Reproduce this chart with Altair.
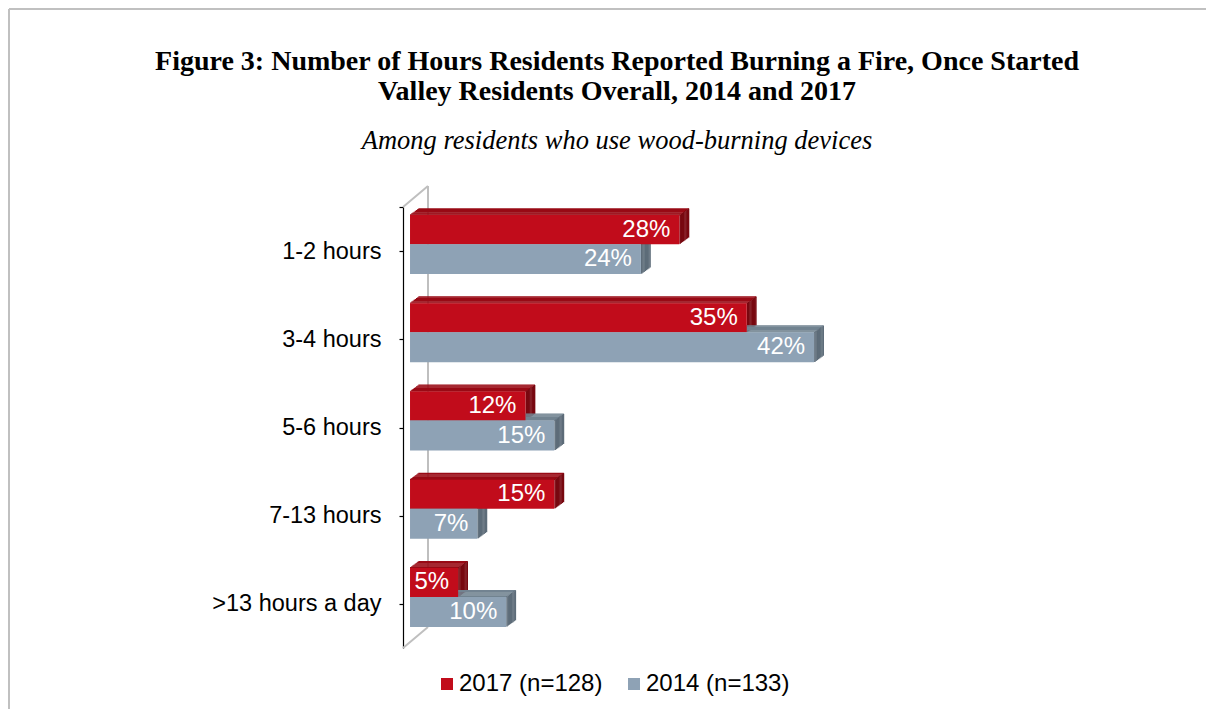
import json
import altair as alt
import pandas as pd

# ---- data ----
categories = ["1-2 hours", "3-4 hours", "5-6 hours", "7-13 hours", ">13 hours a day"]
values_2017 = [28, 35, 12, 15, 5]
values_2014 = [24, 42, 15, 7, 10]
series_names = ["2017 (n=128)", "2014 (n=133)"]

# ---- styles ----
FRONT = ["#C10C1B", "#8EA2B5"]
TOP = ["#990A15", "#728391"]
SIDE = ["#780810", "#5D6C79"]
BAR_TOP = [-0.408, -0.079]   # bar band within category (category units)
BAR_BOT = [-0.079, 0.261]
DX = 0.99                    # 3-D depth in x units
DY = 0.079                   # 3-D depth in y units
N = 8                        # slices used to draw each 3-D face

PLOT_W, PLOT_H = 490, 441
PAD_L, PAD_T, PAD_R, PAD_B = 395, 199, 313, 61

fronts, faces = [], []
for s, vals in enumerate([values_2017, values_2014]):
    for i, (cat, v) in enumerate(zip(categories, vals)):
        yt = i + BAR_TOP[s]
        yb = i + BAR_BOT[s]
        fronts.append(dict(series=series_names[s], s=s, cat=cat, v=v, yt=yt, yb=yb,
                           ym=(yt + yb) / 2, label=f"{v}%"))
        w, h = DX / N, DY / N
        for k in range(N):
            # top face slice
            faces.append(dict(s=s, face="top", x=k * w, x2=v + (k + 1) * w,
                              y=yt - (k + 1) * h, y2=yt - k * h + 0.3 * h, fill=TOP[s]))
        for k in range(N):
            # side face slice
            faces.append(dict(s=s, face="side", x=v + k * w, x2=v + (k + 1) * w + 0.3 * w,
                              y=yt - (k + 0.5) * h, y2=yb - (k + 0.5) * h, fill=SIDE[s]))

df_front = pd.DataFrame(fronts)
df_face = pd.DataFrame(faces)

x_scale = alt.Scale(domain=[-0.73, 50.2], nice=False, zero=False)
y_scale = alt.Scale(domain=[-0.5, 4.5], reverse=True, nice=False, zero=False)
label_expr = ("datum.value < 0 ? '' : " + json.dumps(categories) + "[datum.value]")
y_axis = alt.Axis(values=[-0.5, 0, 1, 2, 3, 4], labelExpr=label_expr, title=None,
                  grid=False, domainColor="#000000", domainWidth=1.2,
                  tickColor="#000000", tickSize=4, tickWidth=1.2,
                  labelFont="Liberation Sans", labelFontSize=23.5, labelColor="#000000",
                  labelPadding=18)


def face_layer(s, face):
    d = df_face[(df_face.s == s) & (df_face.face == face)]
    return alt.Chart(d).mark_rect().encode(
        x=alt.X("x:Q", scale=x_scale, axis=None),
        x2="x2:Q",
        y=alt.Y("y:Q", scale=y_scale, axis=y_axis),
        y2="y2:Q",
        fill=alt.Fill("fill:N", scale=None),
    )


dummy = pd.DataFrame({"a": [0]})
wall_color = "#BFBFBF"
walls = alt.layer(
    alt.Chart(dummy).mark_rule(color=wall_color, strokeWidth=2).encode(
        x=alt.value(25), y=alt.value(-21), y2=alt.value(PLOT_H - 21)),
    alt.Chart(dummy).mark_rule(color=wall_color, strokeWidth=2).encode(
        x=alt.value(0), x2=alt.value(25), y=alt.value(0), y2=alt.value(-21)),
    alt.Chart(dummy).mark_rule(color=wall_color, strokeWidth=2).encode(
        x=alt.value(0), x2=alt.value(25), y=alt.value(PLOT_H), y2=alt.value(PLOT_H - 21)),
    alt.Chart(dummy).mark_rule(color="#C0C0C0", strokeWidth=2).encode(
        x=alt.value(-PAD_L + 1), x2=alt.value(PLOT_W + PAD_R), y=alt.value(-PAD_T + 1)),
    alt.Chart(dummy).mark_rule(color="#C0C0C0", strokeWidth=2).encode(
        x=alt.value(-PAD_L + 1), y=alt.value(-PAD_T + 1), y2=alt.value(PLOT_H + PAD_B)),
)

front_bars = alt.Chart(df_front).mark_rect().encode(
    x=alt.X("v:Q", scale=x_scale, axis=None),
    x2=alt.datum(0),
    y=alt.Y("yt:Q", scale=y_scale, axis=y_axis),
    y2="yb:Q",
    color=alt.Color("series:N",
                    scale=alt.Scale(domain=series_names, range=FRONT),
                    legend=alt.Legend(title=None, orient="none", direction="horizontal",
                                      legendX=32, legendY=465,
                                      symbolType="square", symbolSize=144,
                                      symbolStrokeWidth=0, labelOffset=0,
                                      columnPadding=19, labelFont="Liberation Sans",
                                      labelFontSize=24, labelColor="#000000",
                                      labelLimit=400)),
)

labels = alt.Chart(df_front).mark_text(align="right", baseline="middle", dx=-9,
                                       color="white", font="Liberation Sans",
                                       fontSize=24).encode(
    x=alt.X("v:Q", scale=x_scale, axis=None),
    y=alt.Y("ym:Q", scale=y_scale, axis=y_axis),
    text="label:N",
)

chart = alt.layer(
    walls,
    face_layer(0, "top"), face_layer(0, "side"),
    face_layer(1, "top"), face_layer(1, "side"),
    front_bars, labels,
).properties(
    width=PLOT_W, height=PLOT_H,
    padding={"left": PAD_L, "top": PAD_T, "right": PAD_R, "bottom": PAD_B},
    autosize=alt.AutoSizeParams(type="none"),
    background="white",
    title=alt.TitleParams(
        text=["Figure 3: Number of Hours Residents Reported Burning a Fire, Once Started",
              "Valley Residents Overall, 2014 and 2017"],
        subtitle="Among residents who use wood-burning devices",
        font="Liberation Serif", fontSize=28, fontWeight="bold", lineHeight=30,
        color="#000000",
        subtitleFont="Liberation Serif", subtitleFontSize=26.5, subtitleFontStyle="italic",
        subtitleColor="#000000", subtitlePadding=22,
        anchor="middle", frame="group", dx=-31, offset=-146,
    ),
).configure_view(strokeWidth=0, stroke="transparent")

chart.save("out.html", embed_options={"renderer": "svg", "actions": False})
